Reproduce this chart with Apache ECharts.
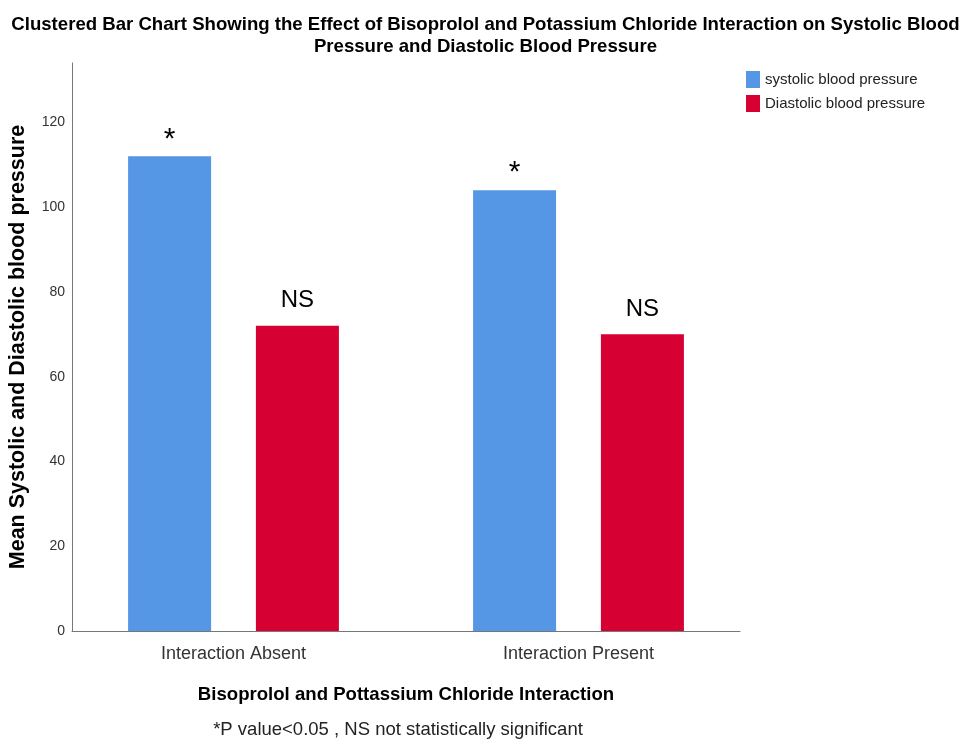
<!DOCTYPE html>
<html><head><meta charset="utf-8">
<script src="https://cdn.jsdelivr.net/npm/echarts@6/dist/echarts.min.js"></script>
<style>html,body{margin:0;padding:0;background:#fff}#c{width:971px;height:744px}</style>
</head><body><div id="c"></div>
<script>
const categories = ['Interaction Absent', 'Interaction Present'];
const systolic = [112, 104];
const diastolic = [72, 70];
const systolicSig = ['*', '*'];
const diastolicSig = ['NS', 'NS'];
const yTicks = [0, 20, 40, 60, 80, 100, 120];

const SANS = '"Liberation Sans", Arial, sans-serif';
const chart = echarts.init(document.getElementById('c'));

function sigLabel(arr, size, dist) {
  return {
    show: true, position: 'top', distance: dist,
    formatter: p => arr[p.dataIndex],
    fontFamily: SANS, fontSize: size, lineHeight: size, color: '#000'
  };
}

chart.setOption({
  animation: false,
  backgroundColor: '#fff',
  title: {
    text: 'Clustered Bar Chart Showing the Effect of Bisoprolol and Potassium Chloride Interaction on Systolic Blood\nPressure and Diastolic Blood Pressure',
    left: 'center', top: 9,
    textStyle: { fontFamily: SANS, fontSize: 18.6, fontWeight: 'bold', color: '#000', lineHeight: 22 }
  },
  legend: {
    orient: 'vertical', left: 741, top: 66, itemGap: 7,
    itemWidth: 14, itemHeight: 17, icon: 'rect',
    textStyle: { fontFamily: SANS, fontSize: 15, color: '#222' },
    data: ['systolic blood pressure', 'Diastolic blood pressure']
  },
  grid: [
    { left: 61, right: 220, top: 63, bottom: 113, containLabel: false, outerBoundsMode: 'none' },
    { left: 72, right: 231, top: 63, bottom: 113, containLabel: false, outerBoundsMode: 'none' }
  ],
  xAxis: [
    { type: 'category', gridIndex: 0, data: categories,
      axisLine: { show: false }, axisTick: { show: false },
      axisLabel: { margin: 14, fontFamily: SANS, fontSize: 18, color: '#333' } },
    { type: 'category', gridIndex: 1, data: ['', ''],
      axisLine: { show: true, lineStyle: { color: '#777', width: 1 } },
      axisTick: { show: false }, axisLabel: { show: false },
      name: 'Bisoprolol and Pottassium Chloride Interaction',
      nameLocation: 'middle', nameGap: 54,
      nameTextStyle: { fontFamily: SANS, fontSize: 18.6, fontWeight: 'bold', color: '#000' } }
  ],
  yAxis: [
    { type: 'value', gridIndex: 0, min: 0, max: 134, interval: 20, show: false, splitLine: { show: false } },
    { type: 'value', gridIndex: 1, min: 0, max: 134, interval: 20,
      axisLine: { show: true, lineStyle: { color: '#777', width: 1 } },
      axisTick: { show: false }, splitLine: { show: false },
      axisLabel: { margin: 7, showMaxLabel: false, fontFamily: SANS, fontSize: 14, color: '#333',
        formatter: v => yTicks.includes(v) ? String(v) : '' },
      name: 'Mean Systolic and Diastolic blood pressure',
      nameLocation: 'middle', nameGap: 43,
      nameTextStyle: { fontFamily: SANS, fontSize: 21.5, fontWeight: 'bold', color: '#000' } }
  ],
  graphic: [{
    type: 'text', x: 398, y: 730,
    style: { text: '*P value<0.05 , NS not statistically significant', fontFamily: SANS, fontSize: 18.5, fill: '#222', textAlign: 'center', textVerticalAlign: 'middle' }
  }],
  series: [
    { name: 'systolic blood pressure', type: 'bar', xAxisIndex: 0, yAxisIndex: 0,
      data: systolic, barWidth: 83, barGap: '54%',
      itemStyle: { color: '#5596E5' }, label: sigLabel(systolicSig, 30, 2) },
    { name: 'Diastolic blood pressure', type: 'bar', xAxisIndex: 0, yAxisIndex: 0,
      data: diastolic, barWidth: 83, barGap: '54%',
      itemStyle: { color: '#D60032' }, label: sigLabel(diastolicSig, 24, 13) }
  ]
});
</script></body></html>
